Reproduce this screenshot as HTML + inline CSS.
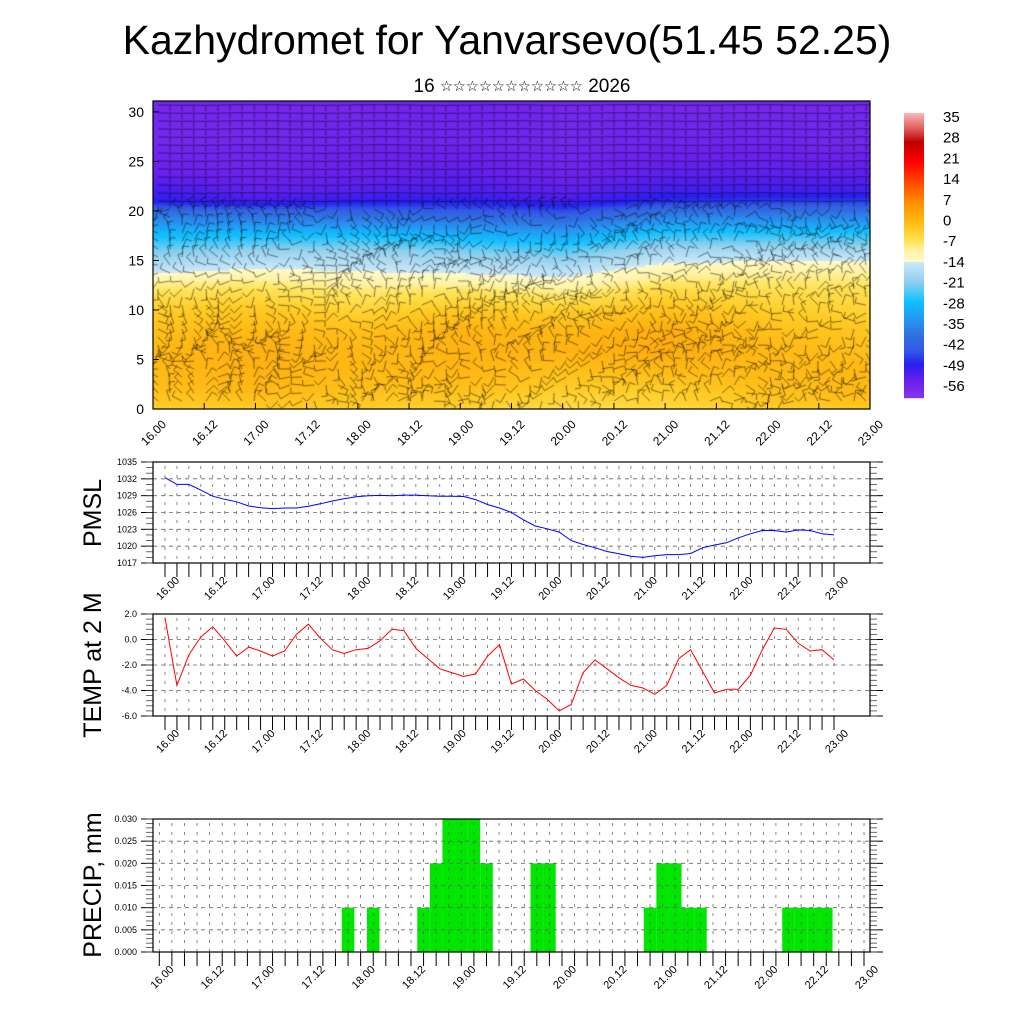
<!DOCTYPE html>
<html><head><meta charset="utf-8">
<style>
body{margin:0;background:#fff;}
#wrap{position:relative;width:1024px;height:1024px;overflow:hidden;font-family:"Liberation Sans","DejaVu Sans",sans-serif;}
#heat{position:absolute;left:153px;top:101px;}
#svg{position:absolute;left:0;top:0;}
</style></head>
<body>
<div id="wrap">
<canvas id="heat" width="717" height="308"></canvas>
<svg id="svg" width="1024" height="1024" xmlns="http://www.w3.org/2000/svg" font-family="Liberation Sans, DejaVu Sans, sans-serif">
<text x="507" y="54" font-size="41" text-anchor="middle">Kazhydromet for Yanvarsevo(51.45 52.25)</text>
<text x="522" y="92" font-size="19" text-anchor="middle">16 <tspan font-size="14.5" dy="-1">☆☆☆☆☆☆☆☆☆☆☆</tspan><tspan dy="1"> 2026</tspan></text>
<g id="g"></g>
</svg>
</div>
<script>
// ---------- data ----------
const xLabels = ["16.00","16.12","17.00","17.12","18.00","18.12","19.00","19.12","20.00","20.12","21.00","21.12","22.00","22.12","23.00"];
const pmsl = [1032.2,1031.0,1031.0,1030.0,1028.9,1028.35,1027.9,1027.15,1026.85,1026.7,1026.8,1026.8,1027.1,1027.55,1028.05,1028.45,1028.8,1029.0,1029.05,1029.0,1029.1,1029.1,1029.0,1028.9,1028.9,1028.85,1028.3,1027.4,1026.8,1026.0,1024.7,1023.6,1023.1,1022.5,1021.0,1020.3,1019.7,1019.05,1018.65,1018.2,1018.0,1018.3,1018.5,1018.5,1018.7,1019.7,1020.2,1020.6,1021.5,1022.2,1022.8,1022.8,1022.5,1022.9,1022.8,1022.2,1022.0];
const pmslTicks = [1017,1020,1023,1026,1029,1032,1035];
const temp2m = [1.7,-3.6,-1.2,0.2,1.0,-0.1,-1.3,-0.6,-0.9,-1.3,-0.9,0.4,1.2,0.1,-0.8,-1.1,-0.8,-0.7,-0.1,0.8,0.7,-0.7,-1.5,-2.3,-2.6,-2.9,-2.7,-1.3,-0.4,-3.5,-3.1,-4.0,-4.7,-5.6,-5.1,-2.6,-1.6,-2.3,-3.0,-3.6,-3.8,-4.3,-3.6,-1.5,-0.8,-2.5,-4.2,-3.9,-3.9,-2.8,-0.8,0.9,0.8,-0.3,-0.9,-0.8,-1.6];
const tempTicks = [-6,-4,-2,0,2];
const tempTickLabels = ["-6.0","-4.0","-2.0","0.0","2.0"];
const precip = [0,0,0,0,0,0,0,0,0,0,0,0,0,0,0,0.01,0,0.01,0,0,0,0.01,0.02,0.03,0.03,0.03,0.02,0,0,0,0.02,0.02,0,0,0,0,0,0,0,0.01,0.02,0.02,0.01,0.01,0,0,0,0,0,0,0.01,0.01,0.01,0.01,0,0,0];
const precipTicks = [0,0.005,0.01,0.015,0.02,0.025,0.03];
const precipTickLabels = ["0.000","0.005","0.010","0.015","0.020","0.025","0.030"];
// cross-section temperature field (columns: days 16..23 at 00h; rows: heights)
const fieldHeights = [0,2,4,6,8,10,12,13,14,16,18,20,21,22,24,27,30];
const fieldCol16 = [-3,-1,0,0,-1,-3,-7,-10,-15,-22,-30,-40,-50,-52,-56,-58,-58];
const fieldCol17 = [-3,0,1,1.5,0,-2,-6,-9,-13,-20,-30,-42,-52,-55,-57,-58,-58];
const fieldCol18 = [-3,-1,0,0,-1,-4,-8,-11,-14,-20,-30,-43,-50,-54,-56,-57,-58];
const fieldCol19 = [-4,-1,0.5,1,1,-2,-7,-11,-15,-22,-32,-44,-50,-53,-55,-57,-57];
const fieldCol20 = [-6,-3,-1,1,0,-3,-9,-13,-16,-24,-34,-46,-52,-55,-57,-58,-58];
const fieldCol21 = [-5,-3,0,2,2,-1,-5,-8,-11,-18,-28,-40,-48,-52,-55,-57,-58];
const fieldCol22 = [-3,-1,0,0,-1,-3,-6,-8,-10,-18,-28,-40,-47,-52,-55,-57,-58];
const fieldCol23 = [-2,0,0,-1,-2,-4,-6,-8,-10,-18,-28,-40,-47,-52,-55,-58,-58];
const fieldCols = [fieldCol16,fieldCol17,fieldCol18,fieldCol19,fieldCol20,fieldCol21,fieldCol22,fieldCol23];
const zTicks = [0,5,10,15,20,25,30];
const cbarLabels = ["35","28","21","14","7","0","-7","-14","-21","-28","-35","-42","-49","-56"];

// ---------- helpers ----------
const NS="http://www.w3.org/2000/svg";
const G=document.getElementById('g');
function mk(tag,attrs,parent){const e=document.createElementNS(NS,tag);for(const k in attrs)e.setAttribute(k,attrs[k]);(parent||G).appendChild(e);return e;}
const stops=[[-62,[135,55,240]],[-56,[106,32,236]],[-50,[40,30,240]],[-45,[50,90,230]],[-40,[48,112,224]],[-35,[40,144,240]],[-28,[16,192,255]],[-21,[144,208,238]],[-14.01,[205,232,248]],[-14,[255,250,200]],[-10,[255,243,165]],[-7,[255,228,90]],[-3,[255,205,40]],[0,[255,185,20]],[4,[252,160,10]],[7,[255,140,0]],[14,[255,70,0]],[21,[255,0,0]],[28,[190,0,0]],[32,[220,80,80]],[38,[250,180,180]]];
function col(t){if(t<=stops[0][0])return stops[0][1];for(let i=1;i<stops.length;i++){if(t<=stops[i][0]){const a=stops[i-1],b=stops[i];const f=(t-a[0])/(b[0]-a[0]);return a[1].map((v,k)=>Math.round(v+(b[1][k]-v)*f));}}return stops[stops.length-1][1];}

// ---------- top panel ----------
const TL=153,TR=870,TT=101,TB=409;
const tx=h=>TL+(h/168)*(TR-TL);
const tz=z=>TB-(z/31.1)*(TB-TT);
function fieldAt(h,z){
  const cf=Math.min(6.9999,Math.max(0,h/24));const c0=Math.floor(cf),fc=cf-c0;
  let r=0;while(r<fieldHeights.length-2&&z>fieldHeights[r+1])r++;
  const fr=Math.min(1,Math.max(0,(z-fieldHeights[r])/(fieldHeights[r+1]-fieldHeights[r])));
  const A=fieldCols[c0],B=fieldCols[c0+1];
  const a=A[r]+(A[r+1]-A[r])*fr,b=B[r]+(B[r+1]-B[r])*fr;
  return a+(b-a)*fc;
}
const cv=document.getElementById('heat');const ctx=cv.getContext('2d');
for(let px=0;px<717;px+=2){for(let py=0;py<308;py+=2){
  const h=px/717*168,z=(308-py)/308*31.1;
  const c=col(fieldAt(h,z));ctx.fillStyle='rgb('+c.join(',')+')';ctx.fillRect(px,py,2,2);
}}
// wind barbs
ctx.strokeStyle='rgba(0,0,0,0.7)';ctx.lineWidth=0.7;
for(let gx=5;gx<717;gx+=12){for(let gy=4;gy<308;gy+=8){
  const z=(308-gy)/308*31.1;
  let ang,L;
  if(z>21){ang=0.05*Math.sin(gx*0.05);L=12;}
  else{ang=Math.sin(gx*0.021)*2.0+Math.cos(gy*0.043+gx*0.007)*1.8+Math.sin(gx*0.0091*gy*0.05)*0.8+1.5;L=11;}
  const x2=gx+Math.cos(ang)*L,y2=gy+Math.sin(ang)*L;
  ctx.beginPath();ctx.moveTo(gx,gy);ctx.lineTo(x2,y2);
  ctx.moveTo(x2,y2);ctx.lineTo(x2+Math.cos(ang+1.57)*6,y2+Math.sin(ang+1.57)*6);ctx.stroke();
}}
mk('rect',{x:TL,y:TT,width:TR-TL,height:TB-TT,fill:'none',stroke:'#000','stroke-width':1.2,});
zTicks.forEach(z=>{const y=tz(z);
  const t=mk('text',{x:144,y:y+5,'font-size':14,'text-anchor':'end',});t.textContent=z;
  mk('line',{x1:TL,x2:TL+6,y1:y,y2:y,stroke:'#000'});
});
xLabels.forEach((l,i)=>{const x=tx(i*12);
  mk('line',{x1:x,x2:x,y1:TB,y2:TB-6,stroke:'#000'});
  const t=mk('text',{x:0,y:0,'font-size':12,'text-anchor':'end',transform:`translate(${x+14},${TB+16}) rotate(-45)`,});t.textContent=l;
});
// colorbar
const CBx=904,CBw=20,CBt=113,CBb=398;
for(let y=CBt;y<CBb;y++){const t=38-(y-CBt)/(CBb-CBt)*(38+62);const c=col(t);
  mk('rect',{x:CBx,y:y,width:CBw,height:1.2,fill:'rgb('+c.join(',')+')',});}
cbarLabels.forEach((l,i)=>{const t=mk('text',{x:943,y:122+i*20.7,'font-size':15,});t.textContent=l;});

// ---------- line panels ----------
function panel(opts){
  const {L,R,T,B,x0,x1,n,ymin,ymax,ticks,tlabels,minorStep,name,title,titleY}=opts;
  const X=i=>x0+i*(x1-x0)/(n-1);
  const Y=v=>B-(v-ymin)/(ymax-ymin)*(B-T);
  for(let i=0;i<n;i++){const x=X(i);
    mk('line',{x1:x,x2:x,y1:T+4,y2:B,stroke:'#555','stroke-width':0.7,'stroke-dasharray':'3,6'});
    mk('line',{x1:x,x2:x,y1:B,y2:B+14,stroke:'#000','stroke-width':1});
  }
  ticks.forEach((v,k)=>{const y=Y(v);
    if(k>0&&k<ticks.length-1) mk('line',{x1:L,x2:R,y1:y,y2:y,stroke:'#666','stroke-width':0.8,'stroke-dasharray':'4,4'});
    mk('line',{x1:L-12,x2:L,y1:y,y2:y,stroke:'#000','stroke-width':1});
    mk('line',{x1:R,x2:R+13,y1:y,y2:y,stroke:'#000','stroke-width':1});
    const t=mk('text',{x:L-16,y:y+3,'font-size':9,'text-anchor':'end',});t.textContent=tlabels[k];
  });
  for(let v=ymin;v<=ymax+1e-9;v+=minorStep){const y=Y(v);
    mk('line',{x1:L-7,x2:L,y1:y,y2:y,stroke:'#444','stroke-width':0.8});
    mk('line',{x1:R,x2:R+7,y1:y,y2:y,stroke:'#444','stroke-width':0.8});
  }
  xLabels.forEach((l,k)=>{const x=X(k*4);
    const t=mk('text',{x:0,y:0,'font-size':11,'text-anchor':'end',transform:`translate(${x+15},${B+18}) rotate(-45)`,});t.textContent=l;});
  mk('rect',{x:L,y:T,width:R-L,height:B-T,fill:'none',stroke:'#000','stroke-width':1.2,});
  const tt=mk('text',{x:0,y:0,'font-size':25,'text-anchor':'middle',transform:`translate(101,${titleY}) rotate(-90)`,});tt.textContent=title;
  return {X,Y};
}
let p=panel({L:153,R:870,T:462,B:563,x0:165,x1:834,n:57,ymin:1017,ymax:1035,ticks:pmslTicks,tlabels:pmslTicks.map(String),minorStep:1,name:'pmsl',title:'PMSL',titleY:513});
mk('path',{d:pmsl.map((v,i)=>(i?'L':'M')+p.X(i).toFixed(1)+','+p.Y(v).toFixed(1)).join(''),fill:'none',stroke:'#0000ff','stroke-width':1,});
p=panel({L:153,R:870,T:614,B:716,x0:165,x1:834,n:57,ymin:-6,ymax:2,ticks:tempTicks,tlabels:tempTickLabels,minorStep:0.4,name:'temp',title:'TEMP at 2 M',titleY:665});
mk('path',{d:temp2m.map((v,i)=>(i?'L':'M')+p.X(i).toFixed(1)+','+p.Y(v).toFixed(1)).join(''),fill:'none',stroke:'#ff0000','stroke-width':1,});
const pg=mk('g',{});
p=panel({L:153,R:870,T:819,B:952,x0:159.3,x1:864,n:57,ymin:0,ymax:0.03,ticks:precipTicks,tlabels:precipTickLabels,minorStep:0.001,name:'precip',title:'PRECIP, mm',titleY:885});
const step=(864-159.3)/56;
precip.forEach((v,i)=>{if(v<=0)return;
  const b=mk('rect',{x:p.X(i)-step/2,y:p.Y(v),width:step,height:952-p.Y(v),fill:'#00e600'},pg);
  
  
});
G.insertBefore(pg,G.firstChild);
</script>
</body></html>
